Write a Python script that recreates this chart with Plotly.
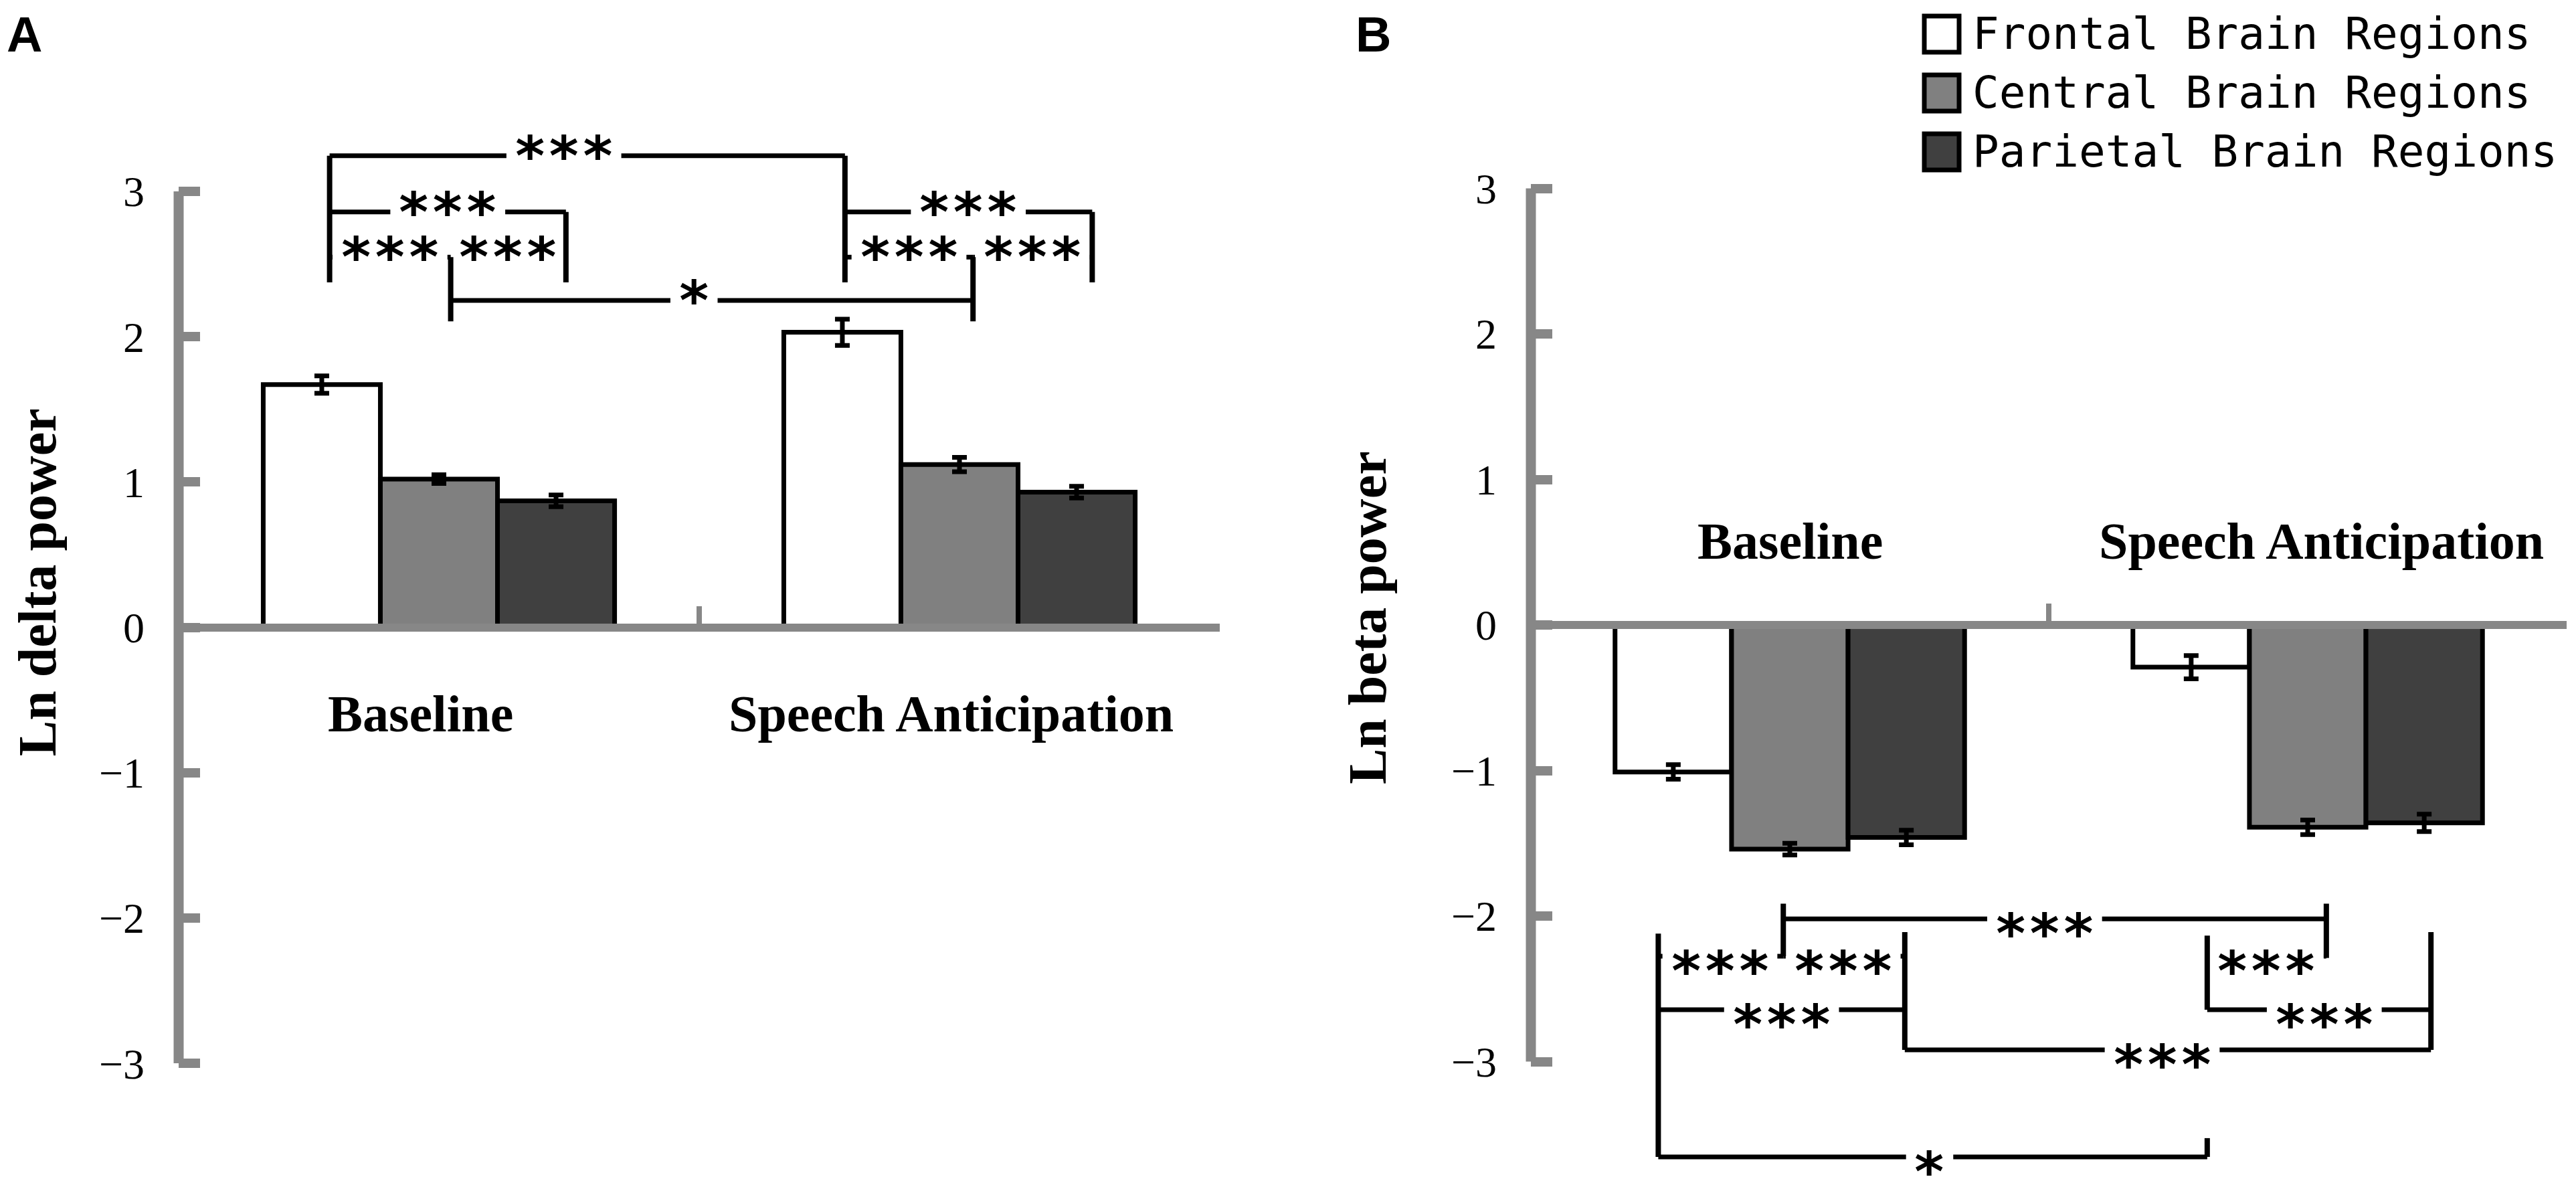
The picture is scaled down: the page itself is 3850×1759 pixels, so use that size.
import plotly.graph_objects as go

# canvas size (pixels)
W, H = 3850, 1759

# ---- data ----
CONDITIONS = ["Baseline", "Speech Anticipation"]
REGIONS = ["Frontal Brain Regions", "Central Brain Regions", "Parietal Brain Regions"]
REGION_COLORS = ["#ffffff", "#808080", "#404040"]

# Ln delta power (panel A), one list per region: [Baseline, Speech Anticipation]
DELTA_MEAN = [[1.67, 2.03], [1.02, 1.12], [0.87, 0.93]]
DELTA_ERR = [[0.06, 0.09], [0.03, 0.05], [0.04, 0.04]]

# Ln beta power (panel B)
BETA_MEAN = [[-1.01, -0.29], [-1.54, -1.39], [-1.46, -1.36]]
BETA_ERR = [[0.05, 0.08], [0.04, 0.05], [0.05, 0.06]]

Y_TICKS = [-3, -2, -1, 0, 1, 2, 3]

# significance brackets: (x_left, x_right, y, label, label_x) in category units
BRACKETS_A = [
    (-0.21, 0.78, 3.245, "***", 0.24),
    (-0.21, 0.244, 2.858, "***", 0.017),
    (-0.21, 0.0226, 2.547, "***", -0.094),
    (0.0226, 0.244, 2.547, "***", 0.133),
    (0.78, 1.255, 2.858, "***", 1.017),
    (0.78, 1.026, 2.547, "***", 0.903),
    (1.026, 1.255, 2.547, "***", 1.14),
    (0.0226, 1.026, 2.249, "*", 0.49),
]
# bracket legs: (x, y_from, y_to)
LEGS_A = [
    (-0.21, 3.245, 2.373),
    (0.244, 2.858, 2.373),
    (0.0226, 2.547, 2.105),
    (0.78, 3.245, 2.373),
    (1.255, 2.858, 2.373),
    (1.026, 2.547, 2.105),
]

BRACKETS_B = [
    (-0.0126, 1.036, -2.019, "***", 0.492),
    (-0.254, -0.0126, -2.276, "***", -0.135),
    (-0.0126, 0.222, -2.276, "***", 0.103),
    (0.806, 1.036, -2.276, "***", 0.92),
    (-0.254, 0.222, -2.644, "***", -0.016),
    (0.806, 1.238, -2.644, "***", 1.032),
    (0.222, 1.238, -2.92, "***", 0.719),
    (-0.254, 0.806, -3.655, "*", 0.27),
]
LEGS_B = [
    (-0.0126, -1.915, -2.276),
    (1.036, -1.915, -2.288),
    (-0.254, -2.121, -3.655),
    (0.222, -2.11, -2.92),
    (0.806, -2.134, -2.644),
    (1.238, -2.11, -2.92),
    (0.806, -3.526, -3.655),
]

# ---- styling ----
AXIS_GRAY = "#878787"
SERIF = "Liberation Serif"
STAR_FONT = dict(family="DejaVu Sans Mono", size=84, color="black", weight="bold")
STAR_PITCH = 0.602 * 84   # advance width of one mono glyph
STAR_PAD = 10

panels = [
    dict(xa="x", ya="y", mean=DELTA_MEAN, err=DELTA_ERR, brackets=BRACKETS_A, legs=LEGS_A,
         xdom=[259, 1815], zero_px=929.5, unit_px=217.2,
         title="Ln delta power", title_x=48, title_y=0.31,
         label_y=-0.592, label_dx=[-0.035, -0.016], star_shift=0, letter="A", letter_x=0),
    dict(xa="x2", ya="y2", mean=BETA_MEAN, err=BETA_ERR, brackets=BRACKETS_B, legs=LEGS_B,
         xdom=[2280, 3828], zero_px=926.0, unit_px=217.5,
         title="Ln beta power", title_x=2036, title_y=0.05,
         label_y=0.575, label_dx=[0.0, 0.026], star_shift=-22, letter="B", letter_x=2016),
]

fig = go.Figure()
shapes = []
annotations = []
layout_axes = {}

for p_i, p in enumerate(panels):
    for r_i, region in enumerate(REGIONS):
        fig.add_trace(go.Bar(
            x=CONDITIONS, y=p["mean"][r_i], name=region,
            xaxis=p["xa"], yaxis=p["ya"],
            marker=dict(color=REGION_COLORS[r_i], line=dict(color="black", width=7)),
            error_y=dict(type="data", array=p["err"][r_i], color="black", thickness=7, width=11),
            showlegend=False,
        ))

    y_top = p["zero_px"] / p["unit_px"]
    y_bot = -(H - p["zero_px"]) / p["unit_px"]
    x_pos = (0 - y_bot) / (y_top - y_bot)
    px_per_cat = (p["xdom"][1] - p["xdom"][0]) / len(CONDITIONS)
    suffix = "" if p_i == 0 else "2"

    layout_axes["xaxis" + suffix] = dict(
        domain=[p["xdom"][0] / W, p["xdom"][1] / W], type="category", range=[-0.5, 1.5],
        anchor="free", position=x_pos,
        showline=True, linecolor=AXIS_GRAY, linewidth=12,
        ticks="inside", tickson="boundaries", ticklen=26, tickwidth=8, tickcolor=AXIS_GRAY,
        showticklabels=False, showgrid=False, zeroline=False,
    )
    layout_axes["yaxis" + suffix] = dict(
        domain=[0, 1], range=[y_bot, y_top], anchor=p["xa"],
        showline=False, showgrid=False, zeroline=False,
        tickvals=Y_TICKS, ticks="inside", ticklen=32, tickwidth=14, tickcolor=AXIS_GRAY,
        ticklabelstandoff=50,
        tickfont=dict(family=SERIF, size=64, color="black"),
    )

    # y axis line only spans the tick range
    shapes.append(dict(type="line", xref=p["xa"] + " domain", yref=p["ya"],
                       x0=0, x1=0, y0=min(Y_TICKS), y1=max(Y_TICKS),
                       line=dict(color=AXIS_GRAY, width=15), layer="above"))

    for x0, x1, y, label, lx in p["brackets"]:
        # leave a gap in the bracket line where the stars sit
        half_gap = (len(label) * STAR_PITCH / 2 + STAR_PAD) / px_per_cat
        for a, b in [(x0, lx - half_gap), (lx + half_gap, x1)]:
            if b > a:
                shapes.append(dict(type="line", xref=p["xa"], yref=p["ya"], x0=a, x1=b, y0=y, y1=y,
                                   line=dict(color="black", width=7), layer="above"))
        annotations.append(dict(x=lx, y=y, xref=p["xa"], yref=p["ya"], text=label,
                                showarrow=False, xanchor="center", yanchor="middle",
                                height=64, valign="middle",
                                yshift=p["star_shift"], font=STAR_FONT))
    for x, ya, yb in p["legs"]:
        shapes.append(dict(type="line", xref=p["xa"], yref=p["ya"], x0=x, x1=x, y0=ya, y1=yb,
                           line=dict(color="black", width=8), layer="above"))

    for c_i, cond in enumerate(CONDITIONS):
        annotations.append(dict(x=c_i + p["label_dx"][c_i], y=p["label_y"], xref=p["xa"], yref=p["ya"],
                                text=cond, showarrow=False, xanchor="center", yanchor="middle",
                                font=dict(family=SERIF, size=78, color="black", weight="bold")))

    annotations.append(dict(x=p["title_x"] / W, y=p["title_y"], xref="paper", yref=p["ya"],
                            text=p["title"], textangle=-90, showarrow=False,
                            xanchor="center", yanchor="middle",
                            font=dict(family=SERIF, size=80, color="black", weight="bold")))

    annotations.append(dict(x=p["letter_x"] / W, y=1, xref="paper", yref="paper",
                            text="<b>" + p["letter"] + "</b>", showarrow=False,
                            xanchor="left", yanchor="top",
                            font=dict(family="Liberation Sans", size=74, color="black")))

# hand-made legend (top right) so the swatches can be large
legend_rows = [43, 131, 219]
for r_i, region in enumerate(REGIONS):
    cy = legend_rows[r_i]
    shapes.append(dict(type="rect", xref="paper", yref="paper",
                       x0=2868 / W, x1=2920 / W, y0=1 - (cy - 27) / H, y1=1 - (cy + 27) / H,
                       fillcolor=REGION_COLORS[r_i], line=dict(color="black", width=7)))
    annotations.append(dict(x=2938 / W, y=1 - cy / H, xref="paper", yref="paper",
                            text=region, showarrow=False, xanchor="left", yanchor="middle",
                            font=dict(family="DejaVu Sans Mono", size=66, color="black")))

fig.update_layout(
    width=W, height=H,
    margin=dict(l=0, r=0, t=0, b=0),
    paper_bgcolor="white", plot_bgcolor="white",
    barmode="group", bargap=0.325, bargroupgap=0,
    showlegend=False,
    shapes=shapes, annotations=annotations,
    **layout_axes,
)

fig.write_html("out.html")
